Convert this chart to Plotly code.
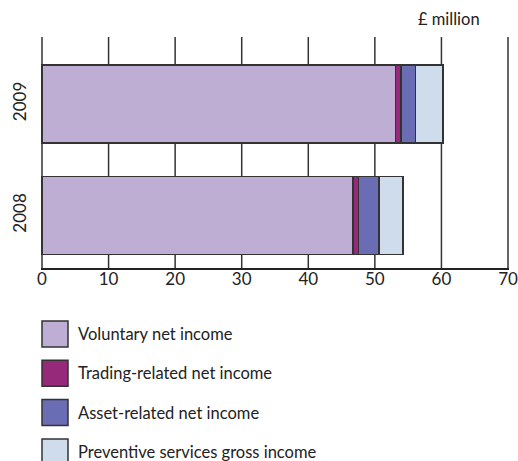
import plotly.graph_objects as go

years = ["2008", "2009"]
series_names = ["Voluntary net income", "Trading-related net income",
                "Asset-related net income", "Preventive services gross income"]
voluntary = [46.75, 53.1]
trading = [0.8, 0.85]
asset = [3.05, 2.15]
preventive = [3.6, 4.1]
x_ticks = [0, 10, 20, 30, 40, 50, 60, 70]

colors = ["#bfaed4", "#97297b", "#6a6db3", "#cfdceb"]
values = [voluntary, trading, asset, preventive]

W, H = 518, 461
L, R, T, B = 41, 509, 37, 268
FONT = "Lato"

fig = go.Figure()
for name, vals, col in zip(series_names, values, colors):
    fig.add_trace(go.Bar(
        y=years, x=vals, orientation="h", name=name,
        marker=dict(color=col, line=dict(color="#333333", width=1.5)),
        width=0.70, showlegend=False,
    ))

def px_x(p):
    return (p - L) / (R - L)

def px_y(p):
    return (B - p) / (B - T)

shapes = []
annotations = []
# vertical gridlines at each tick (drawn below the bars)
for v in x_ticks:
    shapes.append(dict(type="line", xref="x", yref="paper", x0=v, x1=v, y0=0, y1=1,
                       layer="below", line=dict(color="#333333", width=1.5)))

for i, (name, col) in enumerate(zip(series_names, colors)):
    top = 321 + i * 39.3
    shapes.append(dict(type="rect", xref="paper", yref="paper",
                       x0=px_x(42), x1=px_x(68), y0=px_y(top + 26), y1=px_y(top),
                       fillcolor=col, line=dict(color="#333333", width=1.5)))
    annotations.append(dict(xref="paper", yref="paper", x=px_x(76), y=px_y(top + 13),
                            text=name, showarrow=False, xanchor="left", yanchor="middle",
                            font=dict(family=FONT, size=16.5, color="#222222")))

annotations.append(dict(xref="paper", yref="paper", x=px_x(482), y=px_y(19),
                        text="£ million", showarrow=False, xanchor="right", yanchor="middle",
                        font=dict(family=FONT, size=16.5, color="#222222")))

fig.update_layout(
    width=W, height=H,
    margin=dict(l=L, r=W - R, t=T, b=H - B, pad=0, autoexpand=False),
    barmode="stack", bargap=0.3,
    plot_bgcolor="white", paper_bgcolor="white",
    font=dict(family=FONT, size=16, color="#222222"),
    xaxis=dict(range=[-0.15, 70.15], tickvals=x_ticks, showgrid=False,
               zeroline=False, showline=True, linecolor="#222222",
               linewidth=1.5, ticks="", automargin=False, ticklabelstandoff=-5,
               tickfont=dict(size=17, family=FONT)),
    yaxis=dict(type="category", categoryorder="array", categoryarray=years,
               range=[-0.471, 1.601], showgrid=False, zeroline=False, showline=False,
               tickangle=-90, ticks="", automargin=False, ticklabelstandoff=11,
               tickfont=dict(size=17, family=FONT)),
    shapes=shapes, annotations=annotations,
)

fig.write_html(
    "out.html",
    config={"displayModeBar": False},
    post_script="document.body.style.margin='0';document.body.style.overflow='hidden';",
)
